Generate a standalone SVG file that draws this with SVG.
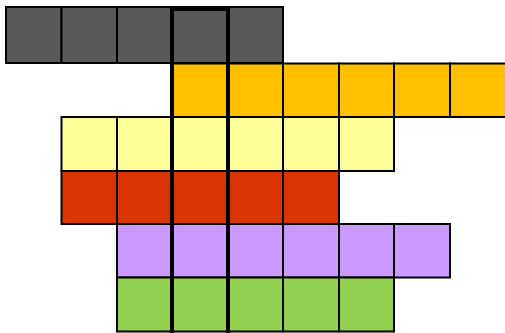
<svg xmlns="http://www.w3.org/2000/svg" width="505" height="333" viewBox="0 0 505 333">
<style>
rect.c{stroke:#000;stroke-width:2}
.g{fill:#595959}.o{fill:#FFC000}.y{fill:#FFFF99}.r{fill:#D83500}.p{fill:#CC99FF}.n{fill:#92D050}
.hl{fill:none;stroke:#000;stroke-width:4}
</style>
<rect width="505" height="333" fill="#fff"/>
<g id="row-gray">
<rect class="c g" x="6" y="7" width="55.5" height="56"/>
<rect class="c g" x="61.5" y="7" width="55.5" height="56"/>
<rect class="c g" x="117" y="7" width="55" height="56"/>
<rect class="c g" x="172" y="7" width="56" height="56"/>
<rect class="c g" x="228" y="7" width="55" height="56"/>
</g>
<g id="row-orange">
<rect class="c o" x="172" y="63.5" width="56" height="53.5"/>
<rect class="c o" x="228" y="63.5" width="55" height="53.5"/>
<rect class="c o" x="283" y="63.5" width="56" height="53.5"/>
<rect class="c o" x="339" y="63.5" width="55" height="53.5"/>
<rect class="c o" x="394" y="63.5" width="56" height="53.5"/>
<rect class="c o" x="450" y="63.5" width="57" height="53.5"/>
</g>
<g id="row-yellow">
<rect class="c y" x="61.5" y="117" width="55.5" height="54"/>
<rect class="c y" x="117" y="117" width="55" height="54"/>
<rect class="c y" x="172" y="117" width="56" height="54"/>
<rect class="c y" x="228" y="117" width="55" height="54"/>
<rect class="c y" x="283" y="117" width="56" height="54"/>
<rect class="c y" x="339" y="117" width="55" height="54"/>
</g>
<g id="row-red">
<rect class="c r" x="61.5" y="171" width="55.5" height="53"/>
<rect class="c r" x="117" y="171" width="55" height="53"/>
<rect class="c r" x="172" y="171" width="56" height="53"/>
<rect class="c r" x="228" y="171" width="55" height="53"/>
<rect class="c r" x="283" y="171" width="56" height="53"/>
</g>
<g id="row-purple">
<rect class="c p" x="117" y="224" width="55" height="53.5"/>
<rect class="c p" x="172" y="224" width="56" height="53.5"/>
<rect class="c p" x="228" y="224" width="55" height="53.5"/>
<rect class="c p" x="283" y="224" width="56" height="53.5"/>
<rect class="c p" x="339" y="224" width="55" height="53.5"/>
<rect class="c p" x="394" y="224" width="56" height="53.5"/>
</g>
<g id="row-green">
<rect class="c n" x="117" y="277.5" width="55" height="54"/>
<rect class="c n" x="172" y="277.5" width="56" height="54"/>
<rect class="c n" x="228" y="277.5" width="55" height="54"/>
<rect class="c n" x="283" y="277.5" width="56" height="54"/>
<rect class="c n" x="339" y="277.5" width="55" height="54"/>
</g>
<g id="highlight">
<rect class="hl" x="172" y="9" width="56" height="330"/>
</g>
</svg>
